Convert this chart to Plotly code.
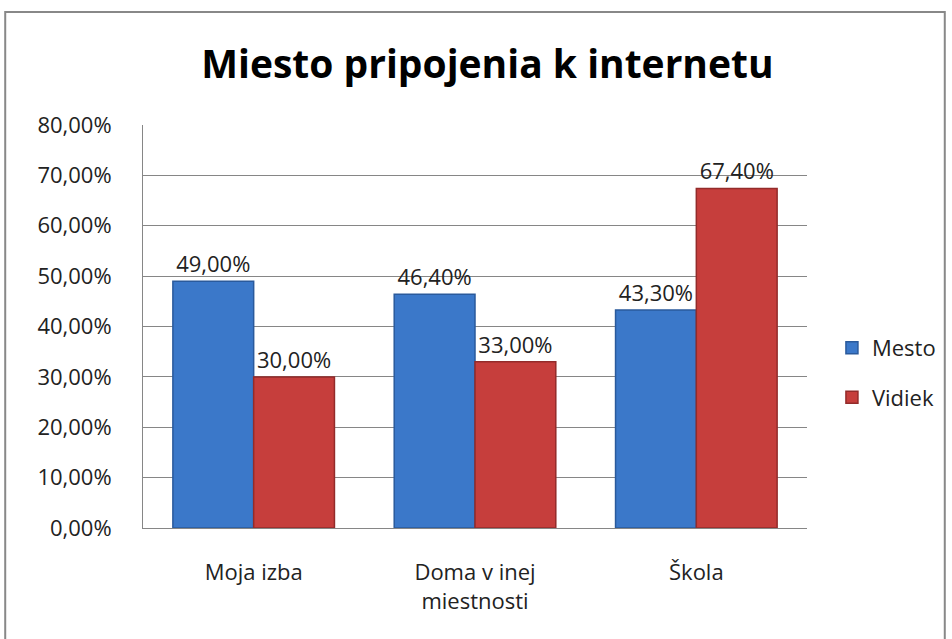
import plotly.graph_objects as go

categories = ["Moja izba", "Doma v inej<br>miestnosti", "Škola"]
series_names = ["Mesto", "Vidiek"]
mesto = [49.0, 46.4, 43.3]
vidiek = [30.0, 33.0, 67.4]
tick_vals = [0, 10, 20, 30, 40, 50, 60, 70, 80]
tick_text = ["0,00%", "10,00%", "20,00%", "30,00%", "40,00%", "50,00%", "60,00%", "70,00%", "80,00%"]

def fmt(v):
    return f"{v:.2f}".replace(".", ",") + "%"

FONT = "Open Sans"
FS = 22
colors = ["#3b78c9", "#c63e3c"]
lines = ["#2a5a9c", "#932b2a"]

fig = go.Figure()
for name, vals, c, lc in zip(series_names, [mesto, vidiek], colors, lines):
    fig.add_trace(go.Bar(
        x=categories, y=vals, name=name, legendgroup=name,
        marker=dict(color=c, line=dict(color=lc, width=1.5)),
        text=[fmt(v) for v in vals], textposition="outside",
        textfont=dict(family=FONT, size=FS, color="#222"),
        cliponaxis=False,
    ))

fig.update_layout(
    width=952, height=639,
    margin=dict(l=143, r=144, t=125, b=111),
    paper_bgcolor="white", plot_bgcolor="white",
    barmode="group", bargap=0.27, bargroupgap=0,
    title=dict(text="<b>Miesto pripojenia k internetu</b>", x=0.512, xanchor="center",
               y=1 - 64 / 639, yanchor="middle",
               font=dict(family=FONT, size=39, color="#000")),
    legend=dict(x=1.036, y=0.385, xanchor="left", yanchor="middle",
                font=dict(family=FONT, size=FS, color="#222"),
                tracegroupgap=18, itemwidth=30),
    showlegend=True,
    xaxis=dict(showline=True, linecolor="#868686", linewidth=1,
               tickfont=dict(family=FONT, size=FS, color="#222"),
               ticklabelstandoff=25, ticks=""),
    yaxis=dict(range=[0, 80], tickvals=tick_vals, ticktext=tick_text,
               showgrid=True, gridcolor="#868686", gridwidth=1,
               showline=True, linecolor="#868686", linewidth=1,
               ticks="",
               tickfont=dict(family=FONT, size=FS, color="#222"),
               ticklabelstandoff=26, zeroline=False),
    shapes=[dict(type="rect", xref="paper", yref="paper",
                 x0=-0.2075, x1=1.2075, y0=-0.3, y1=1.2804,
                 line=dict(color="#888888", width=2), fillcolor="rgba(0,0,0,0)",
                 layer="below")],
)

fig.write_html("out.html", config={"displayModeBar": False},
               post_script="document.body.style.margin='0';")
